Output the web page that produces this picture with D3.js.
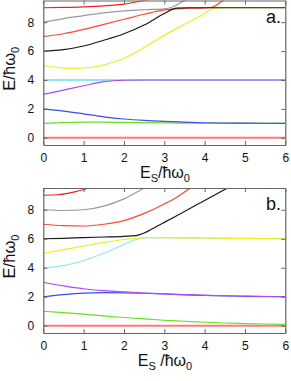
<!DOCTYPE html>
<html>
<head>
<meta charset="utf-8">
<script src="https://cdn.jsdelivr.net/npm/d3@7"></script>
<style>
  body { margin: 0; background: #fff; }
  text { font-family: "Liberation Sans", Arial, Helvetica, sans-serif; fill: #111; }
</style>
</head>
<body>
<div id="chart"></div>
<script>
// tick values
var xTicks = [0, 1, 2, 3, 4, 5, 6];
var yTicks = [0, 2, 4, 6, 8];

// panel a. curves, [Es, E]
var a_red0   = [[0,0],[6,0]];
var a_green  = [[0,1.0],[0.5,1.05],[1,1.08],[1.5,1.08],[2,1.06],[3,1.03],[4,1.01],[6,1.0]];
var a_blue   = [[0,2.0],[0.5,1.85],[1,1.65],[1.5,1.45],[2,1.3],[2.5,1.2],[3,1.13],[3.5,1.08],[4,1.04],[5,1.01],[6,1.0]];
var a_purple = [[0,3.0],[0.5,3.3],[1,3.6],[1.5,3.88],[2,3.98],[2.5,4.0],[6,4.0]];
var a_cyan   = [[0,4],[6,4]];
var a_yellow = [[0,5.0],[0.4,4.86],[0.8,4.8],[1.2,4.88],[1.5,5.05],[2,5.5],[2.5,6.25],[3,7.1],[3.5,7.85],[4,8.6],[4.2,8.95],[4.5,9.0],[6,9.0]];
var a_black  = [[0,6.0],[0.5,6.1],[1,6.35],[1.5,6.75],[2,7.2],[2.5,7.8],[3,8.6],[3.3,8.97],[3.6,9.0],[6,9.0]];
var a_red7   = [[0,7.0],[0.5,7.2],[1,7.5],[1.5,7.85],[2,8.2],[2.5,8.55],[3,8.85],[3.5,8.95],[4,8.98],[4.2,9.05],[4.46,9.5],[4.6,9.7]];
var a_gray   = [[0,8.0],[0.5,8.25],[1,8.45],[1.5,8.65],[2,8.78],[2.5,8.86],[3,8.92],[3.2,9.05],[3.5,9.5],[3.6,9.65]];
var a_red9   = [[0,9.0],[0.5,9.02],[1,9.06],[1.5,9.13],[2,9.25],[2.5,9.5],[2.7,9.6]];

// panel b. curves
var b_red0   = [[0,0],[6,0]];
var b_green  = [[0,1.0],[0.5,0.9],[1,0.8],[1.5,0.68],[2,0.57],[2.5,0.47],[3,0.38],[3.5,0.31],[4,0.24],[4.5,0.19],[5,0.15],[5.5,0.12],[6,0.1]];
var b_blue   = [[0,2.0],[0.5,2.15],[1,2.25],[1.5,2.28],[2,2.27],[2.5,2.24],[3,2.19],[4,2.09],[5,2.03],[6,2.0]];
var b_purple = [[0,3.0],[0.5,2.75],[1,2.55],[1.5,2.42],[2,2.33],[2.5,2.26],[3,2.2],[4,2.1],[5,2.04],[6,2.0]];
var b_cyan   = [[0,4.0],[0.5,4.15],[1,4.5],[1.5,5.0],[2,5.6],[2.3,5.95],[2.6,6.07],[3,6.08],[4,6.05],[5,6.02],[6,6.0]];
var b_yellow = [[0,5.0],[0.5,5.25],[1,5.5],[1.5,5.75],[2,5.95],[2.5,6.07],[3,6.08],[4,6.05],[5,6.02],[6,6.0]];
var b_black  = [[0,6.0],[0.5,6.03],[1,6.08],[1.5,6.12],[2,6.17],[2.3,6.22],[2.5,6.4],[2.65,6.6],[3,7.13],[3.5,7.88],[4,8.64],[4.6,9.55]];
var b_red7   = [[0,7.0],[0.5,6.9],[1,6.88],[1.5,7.0],[2,7.25],[2.5,7.75],[3,8.4],[3.3,8.85],[3.65,9.5],[3.75,9.65]];
var b_gray   = [[0,8.0],[0.5,7.95],[1,8.0],[1.5,8.25],[2,8.75],[2.5,9.5],[2.6,9.65]];
var b_red9   = [[0,9.0],[0.4,9.05],[0.8,9.25],[1.15,9.5],[1.3,9.6]];

var colors = {
  red0: "#ff7a7a", green: "#66e020", blue: "#3a4cf0", purple: "#b048f0", cyan: "#8ee8ee",
  yellow: "#eeee20", black: "#1a1a1a", red7: "#ff4a30", gray: "#9a9a9a", red9: "#f02020"
};

var panels = [
  { name: "a", label: "a.", top: 0.5, bottom: 145, sep: "",
    lines: [["red0", a_red0, 2], ["green", a_green, 1.2], ["blue", a_blue, 1.2], ["cyan", a_cyan, 2],
            ["purple", a_purple, 1.2], ["yellow", a_yellow, 1.2], ["red9", a_red9, 1.2], ["gray", a_gray, 1.2],
            ["red7", a_red7, 1.2], ["black", a_black, 1.2]] },
  { name: "b", label: "b.", top: 188, bottom: 333, sep: " ",
    lines: [["red0", b_red0, 2], ["green", b_green, 1.2], ["blue", b_blue, 1.2], ["purple", b_purple, 1.2],
            ["cyan", b_cyan, 1.2], ["yellow", b_yellow, 1.2], ["black", b_black, 1.2], ["red7", b_red7, 1.2],
            ["gray", b_gray, 1.2], ["red9", b_red9, 1.2]] }
];

var svg = d3.select("#chart").append("svg")
  .attr("width", 291)
  .attr("height", 381);

var left = 43.3, right = 285.3;
var x = d3.scaleLinear().domain([0, 6]).range([left, right]);

panels.forEach(function(p) {
  var y = d3.scaleLinear().domain([-0.5, 9.5]).range([p.bottom, p.top]);
  var g = svg.append("g");

  g.append("clipPath").attr("id", "clip-" + p.name)
    .append("rect")
    .attr("x", left).attr("y", p.top)
    .attr("width", right - left).attr("height", p.bottom - p.top);

  var line = d3.line()
    .x(d => x(d[0]))
    .y(d => y(d[1]))
    .curve(d3.curveMonotoneX);

  g.append("g").attr("clip-path", "url(#clip-" + p.name + ")")
    .selectAll("path")
    .data(p.lines)
    .enter()
    .append("path")
    .attr("d", d => line(d[1]))
    .attr("fill", "none")
    .attr("stroke", d => colors[d[0]])
    .attr("stroke-width", d => d[2]);

  // frame with inward ticks on all sides
  var tl = 4;
  var bottomAxis = d3.axisBottom(x).tickValues(xTicks).tickSizeInner(-tl).tickSizeOuter(0).tickPadding(8).tickFormat(d3.format("d"));
  var topAxis = d3.axisTop(x).tickValues(xTicks).tickSizeInner(-tl).tickSizeOuter(0).tickFormat("");
  var leftAxis = d3.axisLeft(y).tickValues(yTicks).tickSizeInner(-tl).tickSizeOuter(0).tickPadding(9).tickFormat(d3.format("d"));
  var rightAxis = d3.axisRight(y).tickValues(yTicks).tickSizeInner(-tl).tickSizeOuter(0).tickFormat("");

  var ax = [
    g.append("g").attr("transform", "translate(0," + p.bottom + ")").call(bottomAxis),
    g.append("g").attr("transform", "translate(0," + p.top + ")").call(topAxis),
    g.append("g").attr("transform", "translate(" + left + ",0)").call(leftAxis),
    g.append("g").attr("transform", "translate(" + right + ",0)").call(rightAxis)
  ];
  ax.forEach(function(a) {
    a.select(".domain").attr("stroke", "#666").attr("stroke-width", 1.2);
    a.selectAll(".tick line").attr("stroke", "#666");
    a.selectAll(".tick text").style("font-size", "12px").attr("fill", "#111")
      .style("font-family", "'Liberation Sans', Arial, sans-serif");
  });

  // panel label
  g.append("text")
    .attr("x", 266)
    .attr("y", p.top + 22)
    .style("font-size", "18px")
    .text(p.label);

  // x axis title
  var xt = g.append("text")
    .attr("x", 165)
    .attr("y", p.bottom + 33)
    .style("text-anchor", "middle")
    .style("font-size", "16px");
  xt.append("tspan").text("E");
  xt.append("tspan").attr("dy", 4).style("font-size", "11px").text("S");
  xt.append("tspan").attr("dy", -4).text(p.sep + "/ħω");
  xt.append("tspan").attr("dy", 4).style("font-size", "11px").text("0");

  // y axis title
  var cy = (p.top + p.bottom) / 2 - 4;
  var yt = g.append("text")
    .attr("transform", "translate(15," + cy + ") rotate(-90)")
    .style("text-anchor", "middle")
    .style("font-size", "16.5px");
  yt.append("tspan").text("E/ħω");
  yt.append("tspan").attr("dy", 4).style("font-size", "11px").text("0");
});
</script>
</body>
</html>
